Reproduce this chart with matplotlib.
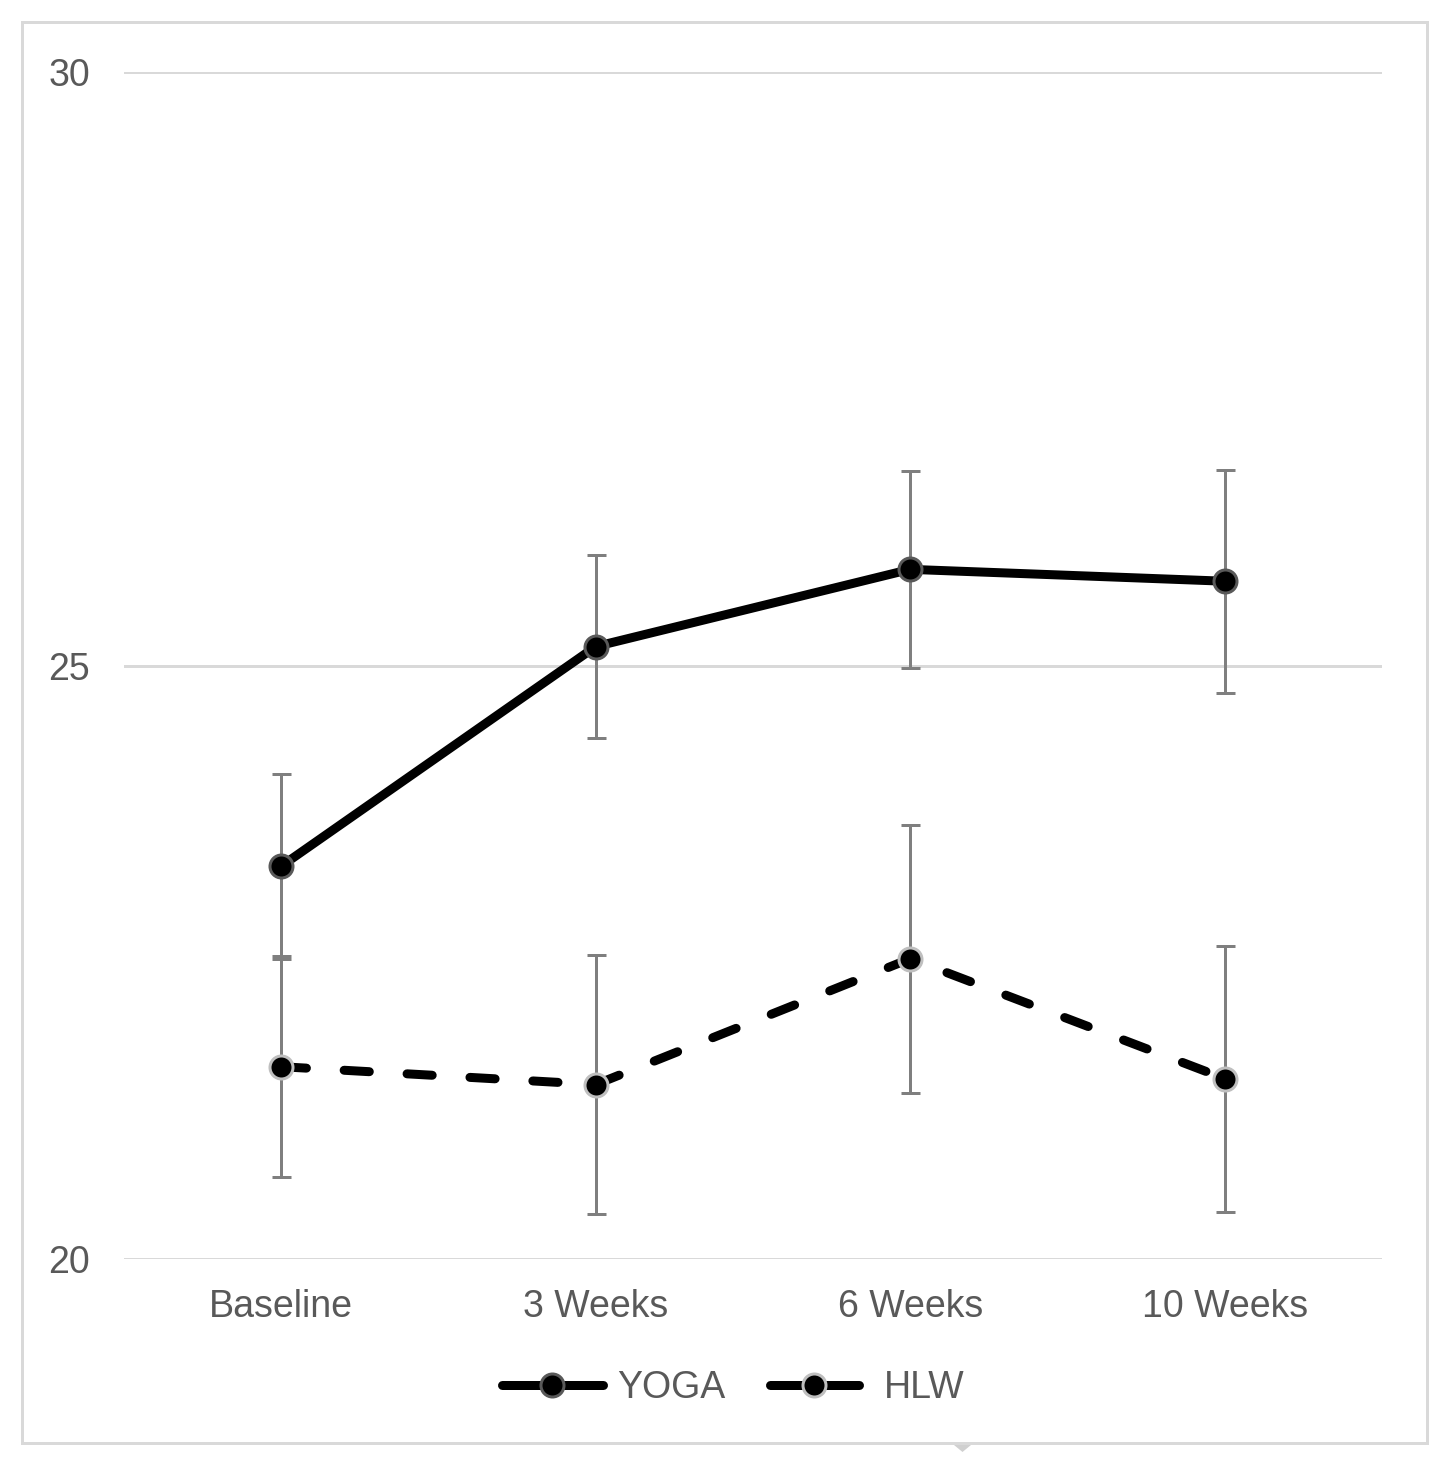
import matplotlib
matplotlib.use("Agg")
import matplotlib.pyplot as plt
from matplotlib.lines import Line2D
from matplotlib.patches import Rectangle, Polygon

categories = ["Baseline", "3 Weeks", "6 Weeks", "10 Weeks"]
yoga = [23.31, 25.16, 25.81, 25.71]
yoga_err = [0.78, 0.77, 0.83, 0.94]
hlw = [21.62, 21.47, 22.53, 21.52]
hlw_err = [0.93, 1.09, 1.13, 1.12]
yticks = [20, 25, 30]

W, H = 1451, 1466
dpi = 100
fig = plt.figure(figsize=(W / dpi, H / dpi), dpi=dpi)
plt.rcParams['font.family'] = ['Liberation Sans', 'DejaVu Sans']

def px(v):
    return v * 72 / dpi

FS = 27
fs_px = FS * dpi / 72
LW = 9

ax = fig.add_axes([124 / W, 1 - 1259 / H, (1382 - 124) / W, (1259 - 72) / H])
x = list(range(len(categories)))

for vals, errs in ((yoga, yoga_err), (hlw, hlw_err)):
    ax.errorbar(x, vals, yerr=errs, fmt='none', ecolor='#7f7f7f', elinewidth=px(3),
                capsize=px(9.5), capthick=px(3), zorder=3)

ax.plot(x, yoga, color='black', lw=px(LW), solid_capstyle='round', solid_joinstyle='round', zorder=4)
ax.plot(x, yoga, 'o', ms=px(23), mfc='black', mec='#595959', mew=px(3), zorder=5)
ax.plot(x, hlw, color='black', lw=px(LW), linestyle=(0, (2.8, 4.2)), dash_capstyle='round', zorder=4)
ax.plot(x, hlw, 'o', ms=px(23), mfc='black', mec='#bfbfbf', mew=px(3), zorder=5)

ax.set_xlim(-0.5, 3.5)
ax.set_ylim(20, 30)
ax.set_yticks(yticks)
ax.set_xticks(x)
ax.set_xticklabels(categories)
ax.tick_params(axis='both', length=0, labelsize=FS, labelcolor='#595959')
ax.tick_params(axis='y', pad=px(34))
ax.tick_params(axis='x', pad=px(30))
ax.grid(axis='y', color='#d9d9d9', lw=px(3))
ax.set_axisbelow(True)
for s in ax.spines.values():
    s.set_visible(False)

h_yoga = Line2D([], [], color='black', lw=px(LW), marker='o', ms=px(23), mfc='black', mec='#595959',
                mew=px(3), solid_capstyle='round')
h_hlw = Line2D([], [], color='black', lw=px(LW), linestyle=(0, (3.9, 2.1)), dash_capstyle='round',
               marker='o', ms=px(23), mfc='black', mec='#bfbfbf', mew=px(3))

leg_y = 1 - 1388 / H
leg1 = fig.legend([h_yoga], ['YOGA'], loc='center left', bbox_to_anchor=(501.5 / W, leg_y),
                  frameon=False, fontsize=FS, handlelength=101 / fs_px, handletextpad=14.5 / fs_px,
                  borderpad=0, borderaxespad=0)
leg2 = fig.legend([h_hlw], ['HLW'], loc='center left', bbox_to_anchor=(769.5 / W, leg_y),
                  frameon=False, fontsize=FS, handlelength=89 / fs_px, handletextpad=25.5 / fs_px,
                  borderpad=0, borderaxespad=0)
for leg in (leg1, leg2):
    for t in leg.get_texts():
        t.set_color('#595959')

fig.patches.append(Rectangle((22 / W, 1 - 1443 / H), (1427 - 22) / W, (1443 - 22) / H,
                             transform=fig.transFigure, fill=False, edgecolor='#d9d9d9', lw=px(3)))
fig.patches.append(Polygon([(954 / W, 1 - 1445 / H), (971 / W, 1 - 1445 / H), (962.5 / W, 1 - 1452 / H)],
                           closed=True, transform=fig.transFigure, facecolor='#d0d0d0', edgecolor='none'))

fig.savefig('out.png', dpi=dpi)
